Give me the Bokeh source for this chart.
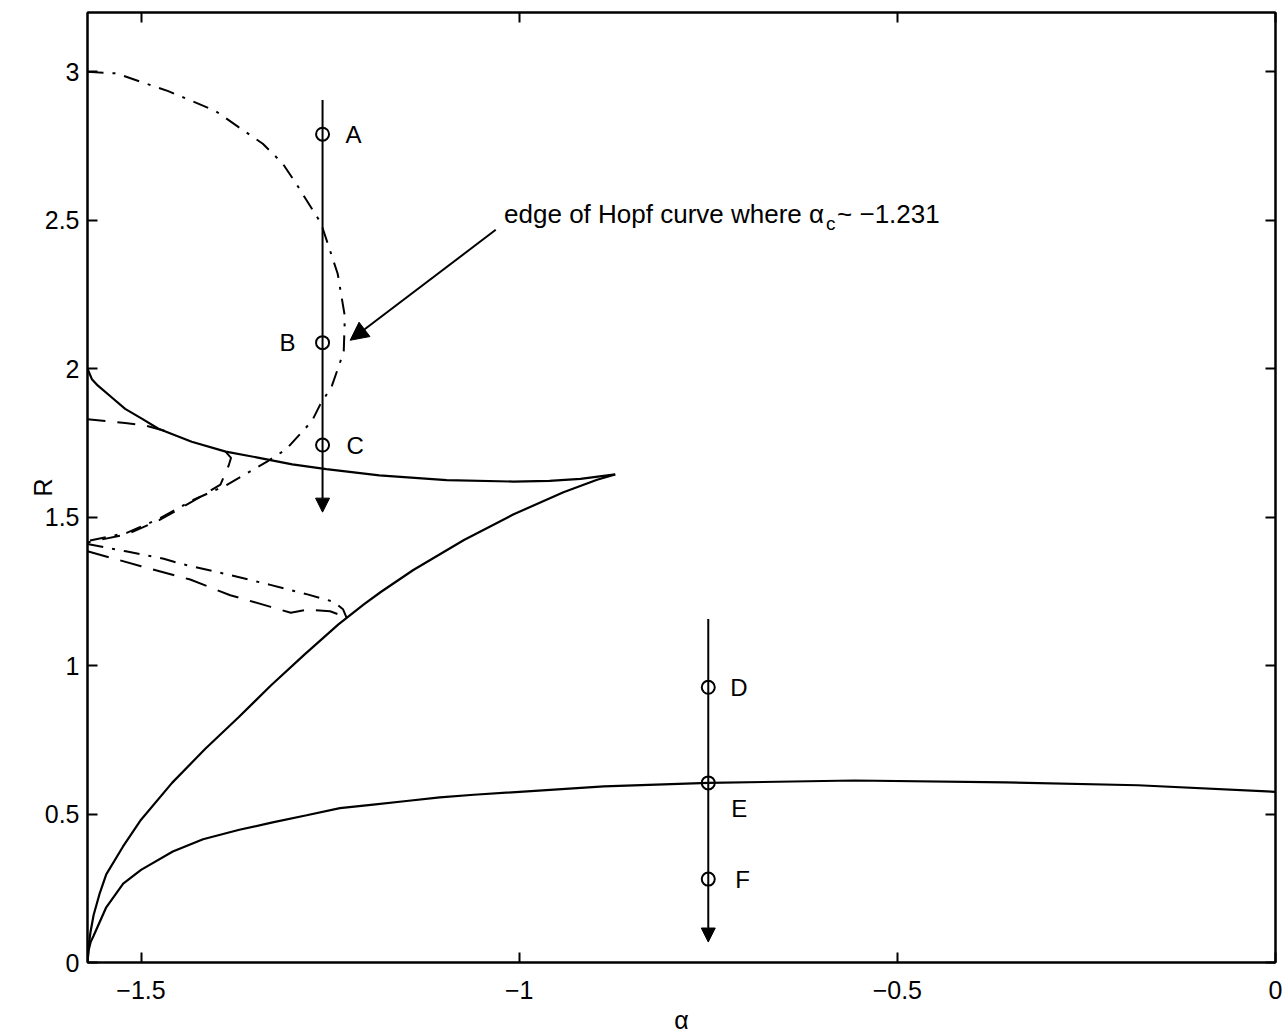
import numpy as np
from bokeh.plotting import figure
from bokeh.models import Range1d, FixedTicker, LinearAxis, Arrow, NormalHead
from bokeh.embed import file_html
from bokeh.resources import INLINE
from bokeh.core.properties import value

# ---------------- data ----------------
x_ticks = [-1.5, -1.0, -0.5, 0.0]
x_tick_labels = ["\u22121.5", "\u22121", "\u22120.5", "0"]
y_ticks = [0, 0.5, 1.0, 1.5, 2.0, 2.5, 3.0]
y_tick_labels = ["0", "0.5", "1", "1.5", "2", "2.5", "3"]

# upper solid branch (from alpha=-pi/2, R=2 to the cusp)
upper_a = [-1.5708, -1.565, -1.557, -1.539, -1.521, -1.499, -1.477, -1.433, -1.388, -1.344,
           -1.30, -1.255, -1.185, -1.096, -1.008, -0.96, -0.919, -0.873]
upper_r = [2.0, 1.965, 1.943, 1.904, 1.865, 1.832, 1.798, 1.754, 1.721, 1.700,
           1.678, 1.662, 1.641, 1.625, 1.620, 1.622, 1.629, 1.644]

# lower solid branch (from origin to the cusp)
lower_a = [-1.5708, -1.569, -1.567, -1.5627, -1.555, -1.546, -1.524, -1.50, -1.459, -1.415,
           -1.371, -1.328, -1.284, -1.239, -1.205, -1.183, -1.14, -1.073, -1.008, -0.9415,
           -0.897, -0.873]
lower_r = [0.0, 0.06, 0.10, 0.16, 0.23, 0.297, 0.39, 0.481, 0.605, 0.72,
           0.826, 0.934, 1.037, 1.139, 1.207, 1.248, 1.322, 1.423, 1.509, 1.584,
           1.626, 1.644]

# long solid curve through E
long_a = [-1.5708, -1.5695, -1.5665, -1.5627, -1.546, -1.5236, -1.50, -1.458, -1.418, -1.370,
          -1.326, -1.281, -1.237, -1.193, -1.149, -1.105, -1.06, -0.888, -0.75, -0.557,
          -0.357, -0.182, 0.0]
long_r = [0.0, 0.04, 0.07, 0.09, 0.186, 0.266, 0.312, 0.374, 0.415, 0.447,
          0.472, 0.496, 0.52, 0.532, 0.544, 0.556, 0.565, 0.593, 0.605, 0.613,
          0.607, 0.597, 0.575]

# Hopf curve (dash-dot)
hopf_a = [-1.5708, -1.533, -1.464, -1.402, -1.371, -1.339, -1.3126, -1.295, -1.262, -1.240,
          -1.2305, -1.232, -1.248, -1.263, -1.274, -1.308, -1.334, -1.387, -1.432, -1.476,
          -1.519, -1.5708]
hopf_r = [3.0, 2.995, 2.935, 2.869, 2.814, 2.758, 2.691, 2.624, 2.49, 2.32,
          2.176, 2.057, 1.94, 1.88, 1.824, 1.729, 1.686, 1.608, 1.557, 1.495,
          1.447, 1.42]

# dashed curve from the upper branch down to the left edge
dash1_a = [-1.388, -1.381, -1.384, -1.395, -1.432, -1.476, -1.519, -1.5708]
dash1_r = [1.72, 1.70, 1.675, 1.61, 1.553, 1.49, 1.442, 1.415]

# short dashed curve at the top-left
dash2_a = [-1.5708, -1.521, -1.493, -1.464]
dash2_r = [1.83, 1.817, 1.808, 1.788]

# dash-dot line from the left edge to the lower branch
dd3_a = [-1.5708, -1.52, -1.47, -1.449, -1.382, -1.329, -1.280, -1.245, -1.233, -1.228]
dd3_r = [1.41, 1.385, 1.36, 1.344, 1.305, 1.272, 1.240, 1.215, 1.19, 1.16]

# dashed line from the left edge to the lower branch
dash4_a = [-1.5708, -1.5, -1.435, -1.382, -1.3285, -1.302, -1.279, -1.25, -1.236, -1.231]
dash4_r = [1.385, 1.335, 1.29, 1.237, 1.198, 1.178, 1.189, 1.183, 1.17, 1.152]

# vertical paths (alpha, R start, R end)
path1_a, path1_r0, path1_r1 = -1.26, 2.905, 1.517
path2_a, path2_r0, path2_r1 = -0.75, 1.157, 0.069

# marked points
pt_names = ["A", "B", "C", "D", "E", "F"]
pt_a = [-1.26, -1.26, -1.26, -0.75, -0.75, -0.75]
pt_r = [2.79, 2.088, 1.743, 0.927, 0.605, 0.281]

# annotation
note_text = "edge of Hopf curve where \u03b1"
note_sub = "c"
note_tail = "~ \u22121.231"
note_a, note_r = -1.02, 2.52
note_arrow_a0, note_arrow_r0 = -1.031, 2.468
note_arrow_a1, note_arrow_r1 = -1.2235, 2.096

FONT = "Liberation Sans"

# ---------------- figure ----------------
p = figure(width=1284, height=1036,
           x_range=Range1d(-np.pi / 2, 0), y_range=Range1d(0, 3.2),
           output_backend="svg", toolbar_location=None,
           min_border_left=87, min_border_right=9, min_border_top=12, min_border_bottom=60)
p.grid.visible = False
p.outline_line_color = "black"
p.outline_line_width = 2
p.background_fill_color = "white"
p.border_fill_color = "white"

xt = FixedTicker(ticks=x_ticks)
yt = FixedTicker(ticks=y_ticks)


def style_axis(ax, show_labels):
    ax.axis_line_color = "black"
    ax.axis_line_width = 2
    ax.major_tick_in = 10
    ax.major_tick_out = 0
    ax.major_tick_line_width = 2
    ax.minor_tick_line_color = None
    if show_labels:
        ax.major_label_text_font = FONT
        ax.major_label_text_font_size = "25px"
        ax.major_label_text_color = "black"
        ax.axis_label_text_font = FONT
        ax.axis_label_text_font_size = "25px"
        ax.axis_label_text_font_style = "normal"
        ax.axis_label_text_color = "black"
    else:
        ax.major_label_text_font_size = "1px"
        ax.major_label_text_color = None
        ax.major_label_standoff = 0


bx = p.xaxis[0]
bx.ticker = xt
bx.major_label_overrides = {t: l for t, l in zip(x_ticks, x_tick_labels)}
style_axis(bx, True)
bx.major_label_standoff = 18
bx.axis_label = "\u03b1"
bx.axis_label_standoff = 4

ly = p.yaxis[0]
ly.ticker = yt
ly.major_label_overrides = {t: l for t, l in zip(y_ticks, y_tick_labels)}
style_axis(ly, True)
ly.major_label_standoff = 8
ly.axis_label = "R"
ly.axis_label_standoff = -15

tx = LinearAxis(ticker=xt)
style_axis(tx, False)
p.add_layout(tx, "above")
ry = LinearAxis(ticker=yt)
style_axis(ry, False)
p.add_layout(ry, "right")

# ---------------- curves ----------------
p.line(upper_a, upper_r, line_color="black", line_width=2.2)
p.line(lower_a, lower_r, line_color="black", line_width=2.2)
p.line(long_a, long_r, line_color="black", line_width=2.2)
p.line(hopf_a, hopf_r, line_color="black", line_width=2, line_dash="16 9 3 9")
p.line(dd3_a, dd3_r, line_color="black", line_width=2, line_dash="16 9 3 9")
p.line(dash1_a, dash1_r, line_color="black", line_width=2, line_dash="18 12")
p.line(dash2_a, dash2_r, line_color="black", line_width=2, line_dash="18 12")
p.line(dash4_a, dash4_r, line_color="black", line_width=2, line_dash="22 12")

# vertical arrows
for a, r0, r1 in [(path1_a, path1_r0, path1_r1), (path2_a, path2_r0, path2_r1)]:
    p.add_layout(Arrow(end=NormalHead(size=14, fill_color="black", line_color="black"),
                       x_start=a, y_start=r0, x_end=a, y_end=r1,
                       line_color="black", line_width=2))

# marked points
p.scatter(pt_a, pt_r, marker="circle", size=13, fill_color=None,
          line_color="black", line_width=2)

label_dx = [23, -27, 24, 22, 23, 27]
label_dy = [0, 0, 0, 0, 26, 0]
label_align = ["left", "right", "left", "left", "left", "left"]
p.text(x=pt_a, y=pt_r, text=pt_names, x_offset=label_dx, y_offset=label_dy,
       text_align=label_align, text_baseline="middle",
       text_font=value(FONT), text_font_size="24px", text_color="black")

# annotation
p.text(x=[note_a], y=[note_r], text=[note_text], text_align="left",
       text_baseline="alphabetic", text_font=value(FONT), text_font_size="26px",
       text_color="black")
p.text(x=[note_a], y=[note_r], text=[note_sub], x_offset=322, y_offset=9,
       text_align="left", text_baseline="alphabetic", text_font=value(FONT),
       text_font_size="19px", text_color="black")
p.text(x=[note_a], y=[note_r], text=[note_tail], x_offset=333,
       text_align="left", text_baseline="alphabetic", text_font=value(FONT),
       text_font_size="26px", text_color="black")
p.add_layout(Arrow(end=NormalHead(size=18, fill_color="black", line_color="black"),
                   x_start=note_arrow_a0, y_start=note_arrow_r0,
                   x_end=note_arrow_a1, y_end=note_arrow_r1,
                   line_color="black", line_width=2))

open("out.html", "w").write(file_html(p, INLINE))
